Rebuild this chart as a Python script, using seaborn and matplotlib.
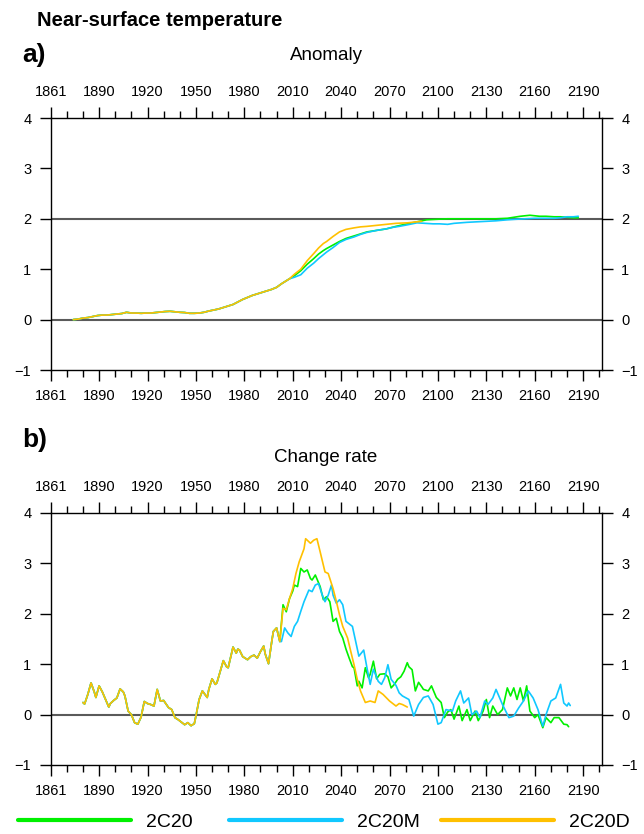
import numpy as np
import pandas as pd
import matplotlib
matplotlib.use("Agg")
import matplotlib.pyplot as plt
import seaborn as sns
from matplotlib.ticker import MultipleLocator
from matplotlib.lines import Line2D

# ---------------- data ----------------
series_names = ["2C20", "2C20M", "2C20D"]
series_colors = ["#00F000", "#10C8FF", "#FFC000"]
xtick_labels = ["1861", "1890", "1920", "1950", "1980", "2010", "2040",
                "2070", "2100", "2130", "2160", "2190"]
ytick_values = [-1, 0, 1, 2, 3, 4]

# Panel a: anomaly (common part of all three runs)
anom_common_years = [1874, 1877, 1880, 1883, 1886, 1889, 1892, 1895, 1898, 1901, 1904, 1907,
                     1910, 1913, 1916, 1919, 1922, 1925, 1928, 1931, 1934, 1937, 1940, 1943,
                     1946, 1949, 1952, 1955, 1958, 1961, 1964, 1967, 1970, 1973, 1976, 1979,
                     1982, 1985, 1988, 1991, 1994, 1997, 2000, 2003, 2006, 2008]
anom_common_vals = [0.00, 0.01, 0.03, 0.04, 0.06, 0.08, 0.09, 0.09, 0.10, 0.11, 0.12, 0.145,
                    0.13, 0.13, 0.125, 0.13, 0.13, 0.14, 0.15, 0.16, 0.165, 0.155, 0.145, 0.14,
                    0.125, 0.125, 0.13, 0.145, 0.17, 0.19, 0.21, 0.24, 0.27, 0.30, 0.35, 0.40,
                    0.44, 0.48, 0.51, 0.54, 0.57, 0.60, 0.64, 0.71, 0.77, 0.81]

anom_2C20_years = [2011, 2015, 2019, 2023, 2026, 2029, 2031, 2035, 2039, 2043, 2048, 2052,
                   2056, 2062, 2068, 2074, 2081, 2087, 2093, 2099, 2106, 2112, 2118, 2124,
                   2130, 2136, 2143, 2147, 2151, 2154, 2157, 2160, 2163, 2167, 2172, 2176,
                   2180, 2184, 2187]
anom_2C20_vals = [0.87, 0.97, 1.10, 1.21, 1.30, 1.37, 1.41, 1.48, 1.55, 1.61, 1.66, 1.70,
                  1.74, 1.77, 1.80, 1.85, 1.90, 1.94, 1.98, 1.99, 2.00, 2.00, 2.00, 2.00,
                  2.00, 2.00, 2.01, 2.03, 2.05, 2.06, 2.07, 2.06, 2.05, 2.05, 2.04, 2.04,
                  2.03, 2.02, 2.02]

anom_2C20M_years = [2011, 2015, 2019, 2023, 2026, 2031, 2035, 2039, 2043, 2048, 2052, 2056,
                    2062, 2068, 2072, 2076, 2081, 2087, 2092, 2097, 2101, 2106, 2110, 2114,
                    2118, 2124, 2130, 2136, 2143, 2148, 2154, 2160, 2165, 2172, 2176, 2180,
                    2184, 2187]
anom_2C20M_vals = [0.84, 0.89, 1.02, 1.12, 1.21, 1.34, 1.43, 1.53, 1.59, 1.64, 1.69, 1.73,
                   1.77, 1.80, 1.83, 1.85, 1.88, 1.92, 1.91, 1.90, 1.90, 1.89, 1.91, 1.92,
                   1.93, 1.94, 1.95, 1.96, 1.98, 1.99, 2.00, 2.01, 2.01, 2.01, 2.02, 2.04,
                   2.04, 2.05]

anom_2C20D_years = [2011, 2015, 2019, 2023, 2026, 2029, 2031, 2035, 2039, 2043, 2048, 2052,
                    2056, 2062, 2068, 2074, 2081, 2087, 2090]
anom_2C20D_vals = [0.90, 1.00, 1.17, 1.31, 1.42, 1.51, 1.55, 1.65, 1.74, 1.79, 1.82, 1.84,
                   1.85, 1.87, 1.89, 1.91, 1.92, 1.94, 1.95]

# Panel b: change rate (common part)
rate_common_years = [1880, 1881, 1883, 1885, 1887, 1888, 1890, 1892, 1894, 1896, 1897, 1899,
                     1901, 1903, 1905, 1906, 1908, 1910, 1912, 1914, 1916, 1918, 1920, 1922,
                     1924, 1926, 1928, 1930, 1933, 1935, 1937, 1939, 1941, 1943, 1945, 1947,
                     1949, 1950, 1952, 1954, 1957, 1958, 1960, 1962, 1963, 1965, 1967, 1969,
                     1970, 1972, 1973, 1975, 1976, 1977, 1979, 1982, 1984, 1986, 1988, 1990,
                     1992, 1993, 1995, 1997, 1998, 2000, 2002]
rate_common_vals = [0.24, 0.21, 0.40, 0.63, 0.45, 0.34, 0.57, 0.45, 0.30, 0.15, 0.22, 0.28,
                    0.33, 0.51, 0.45, 0.37, 0.07, 0.00, -0.16, -0.19, -0.05, 0.26, 0.22, 0.20,
                    0.17, 0.50, 0.27, 0.28, 0.14, 0.10, -0.06, -0.10, -0.15, -0.20, -0.16, -0.22,
                    -0.18, -0.03, 0.30, 0.47, 0.34, 0.50, 0.71, 0.60, 0.63, 0.85, 1.07, 0.95,
                    0.93, 1.20, 1.34, 1.22, 1.30, 1.28, 1.15, 1.09, 1.15, 1.18, 1.12, 1.25,
                    1.36, 1.20, 1.01, 1.45, 1.65, 1.72, 1.45]

rate_2C20_years = [2004, 2006, 2008, 2010, 2011, 2013, 2015, 2017, 2019, 2021, 2022, 2024,
                   2026, 2027, 2029, 2031, 2033, 2035, 2037, 2039, 2041, 2043, 2045, 2047,
                   2048, 2050, 2051, 2053, 2055, 2057, 2058, 2060, 2062, 2064, 2067, 2069,
                   2071, 2073, 2075, 2077, 2079, 2081, 2082, 2084, 2086, 2088, 2090, 2091,
                   2094, 2096, 2099, 2102, 2104, 2106, 2108, 2110, 2113, 2115, 2118, 2120,
                   2123, 2125, 2128, 2130, 2132, 2134, 2137, 2140, 2143, 2145, 2147, 2149,
                   2151, 2153, 2155, 2157, 2160, 2162, 2165, 2167, 2170, 2172, 2175, 2178,
                   2180, 2181]
rate_2C20_vals = [2.18, 2.04, 2.30, 2.45, 2.57, 2.54, 2.90, 2.83, 2.87, 2.70, 2.67, 2.77,
                  2.62, 2.54, 2.28, 2.34, 2.24, 1.85, 1.91, 1.65, 1.52, 1.30, 1.12, 0.95,
                  0.93, 0.57, 0.66, 0.53, 0.93, 0.73, 0.80, 1.06, 0.71, 0.80, 0.81, 0.75,
                  0.53, 0.60, 0.70, 0.75, 0.86, 1.03, 0.95, 0.89, 0.47, 0.64, 0.55, 0.50,
                  0.47, 0.57, 0.34, 0.24, -0.06, 0.05, 0.10, -0.09, 0.17, -0.12, 0.10, -0.12,
                  0.07, -0.12, 0.07, 0.30, -0.06, 0.17, 0.00, 0.10, 0.53, 0.37, 0.53, 0.30,
                  0.53, 0.27, 0.57, 0.07, -0.06, 0.00, -0.26, -0.06, -0.16, -0.06, -0.06, -0.19,
                  -0.20, -0.24]

rate_2C20M_years = [2003, 2005, 2007, 2009, 2011, 2013, 2015, 2017, 2020, 2022, 2024, 2026,
                    2028, 2030, 2032, 2034, 2035, 2037, 2039, 2041, 2043, 2047, 2049, 2051,
                    2054, 2056, 2058, 2060, 2063, 2065, 2067, 2069, 2071, 2074, 2076, 2078,
                    2082, 2085, 2088, 2091, 2094, 2097, 2100, 2102, 2105, 2109, 2111, 2114,
                    2116, 2119, 2121, 2124, 2126, 2129, 2131, 2134, 2136, 2140, 2144, 2147,
                    2150, 2153, 2156, 2159, 2162, 2165, 2167, 2170, 2173, 2176, 2178, 2180,
                    2181, 2182]
rate_2C20M_vals = [1.45, 1.72, 1.62, 1.55, 1.75, 1.85, 2.05, 2.24, 2.47, 2.44, 2.57, 2.60,
                   2.40, 2.24, 2.37, 2.57, 2.37, 2.21, 2.28, 2.18, 1.85, 1.75, 1.45, 1.16,
                   1.28, 0.93, 0.60, 0.90, 0.66, 0.60, 0.73, 0.99, 0.70, 0.58, 0.43, 0.37,
                   0.30, -0.03, 0.20, 0.34, 0.37, 0.20, -0.19, -0.16, 0.10, 0.07, 0.27, 0.47,
                   0.23, 0.33, 0.00, 0.07, -0.06, 0.27, 0.20, 0.33, 0.50, 0.20, -0.06, -0.03,
                   0.13, 0.27, 0.47, 0.33, 0.10, -0.23, 0.00, 0.27, 0.33, 0.60, 0.23, 0.17,
                   0.23, 0.18]

rate_2C20D_years = [2004, 2006, 2008, 2010, 2012, 2014, 2017, 2018, 2021, 2023, 2025, 2027,
                    2030, 2032, 2035, 2037, 2039, 2041, 2044, 2046, 2048, 2050, 2052, 2055,
                    2058, 2061, 2063, 2066, 2070, 2074, 2076, 2078, 2081]
rate_2C20D_vals = [2.11, 2.08, 2.30, 2.50, 2.80, 3.03, 3.29, 3.49, 3.40, 3.46, 3.49, 3.23,
                   2.83, 2.80, 2.50, 2.25, 1.98, 1.75, 1.52, 1.25, 0.99, 0.70, 0.47, 0.24,
                   0.27, 0.24, 0.47, 0.40, 0.27, 0.17, 0.22, 0.20, 0.15]


def build_frame(common_years, common_vals, tails):
    frames = []
    for name, (ty, tv) in zip(series_names, tails):
        frames.append(pd.DataFrame({
            "year": list(common_years) + list(ty),
            "value": list(common_vals) + list(tv),
            "series": name,
        }))
    return pd.concat(frames, ignore_index=True)


df_anom = build_frame(anom_common_years, anom_common_vals,
                      [(anom_2C20_years, anom_2C20_vals),
                       (anom_2C20M_years, anom_2C20M_vals),
                       (anom_2C20D_years, anom_2C20D_vals)])
df_rate = build_frame(rate_common_years, rate_common_vals,
                      [(rate_2C20_years, rate_2C20_vals),
                       (rate_2C20M_years, rate_2C20M_vals),
                       (rate_2C20D_years, rate_2C20D_vals)])

# ---------------- style ----------------
sns.set_style("ticks")
plt.rcParams["font.family"] = ["Liberation Sans", "DejaVu Sans"]
plt.rcParams["text.color"] = "black"
plt.rcParams["xtick.color"] = "black"
plt.rcParams["ytick.color"] = "black"
plt.rcParams["xtick.labelcolor"] = "black"
plt.rcParams["ytick.labelcolor"] = "black"
palette = dict(zip(series_names, series_colors))

W, H = 644, 834
fig = plt.figure(figsize=(W / 100, H / 100), dpi=100)

ax_left = 50.7 / W
ax_width = (601.7 - 50.7) / W
ax_a = fig.add_axes([ax_left, 1 - 370 / H, ax_width, (370 - 118) / H])
ax_b = fig.add_axes([ax_left, 1 - 765 / H, ax_width, (765 - 513) / H])

xtick_pos = [1860 + 30 * i for i in range(len(xtick_labels))]

for ax, df, hlines in [(ax_a, df_anom, [0, 2]), (ax_b, df_rate, [0])]:
    for h in hlines:
        ax.axhline(h, color="#5a5a5a", lw=1.5, zorder=1)
    sns.lineplot(data=df, x="year", y="value", hue="series", hue_order=series_names,
                 palette=palette, ax=ax, legend=False, linewidth=1.2,
                 estimator=None, sort=False, zorder=3)
    ax.set_xlim(1860, 2201.5)
    ax.set_ylim(-1, 4)
    ax.set_xticks(xtick_pos, labels=xtick_labels)
    ax.xaxis.set_minor_locator(MultipleLocator(10))
    ax.set_yticks(ytick_values, labels=[str(v).replace("-", "\u2212") for v in ytick_values])
    ax.set_xlabel("")
    ax.set_ylabel("")
    for s in ax.spines.values():
        s.set_visible(True)
        s.set_color("black")
        s.set_linewidth(1.0)
    ax.tick_params(axis="x", which="both", top=True, bottom=True,
                   labeltop=True, labelbottom=True, direction="out",
                   color="black", labelcolor="black", width=1.0)
    ax.tick_params(axis="x", which="major", length=8, pad=6, labelsize=10.5)
    ax.tick_params(axis="x", which="minor", length=5)
    ax.tick_params(axis="y", which="major", left=True, right=True,
                   labelleft=True, labelright=True, direction="out",
                   length=8, pad=6, labelsize=10.5, color="black",
                   labelcolor="black", width=1.0)

fig.text(37 / W, 1 - 20 / H, "Near-surface temperature", fontsize=14.5,
         fontweight="bold", va="center", ha="left", color="black")
fig.text(22 / W, 1 - 55 / H, "a)", fontsize=19, fontweight="bold", va="center",
         ha="left", color="black")
fig.text(326 / W, 1 - 55 / H, "Anomaly", fontsize=13.5, va="center", ha="center",
         color="black")
fig.text(22 / W, 1 - 440 / H, "b)", fontsize=19, fontweight="bold", va="center",
         ha="left", color="black")
fig.text(326 / W, 1 - 458 / H, "Change rate", fontsize=13.5, va="center", ha="center",
         color="black")

# legend: three equally spaced entries
legend_x = [18, 229, 441]
for name, col, x0 in zip(series_names, series_colors, legend_x):
    handle = Line2D([], [], color=col, lw=3)
    fig.legend([handle], [name], loc="center left",
               bbox_to_anchor=(x0 / W, 1 - 822 / H), frameon=False,
               fontsize=14, handlelength=5.8, handletextpad=0.8,
               borderpad=0, borderaxespad=0, labelcolor="black")

fig.savefig("out.png", dpi=100)
